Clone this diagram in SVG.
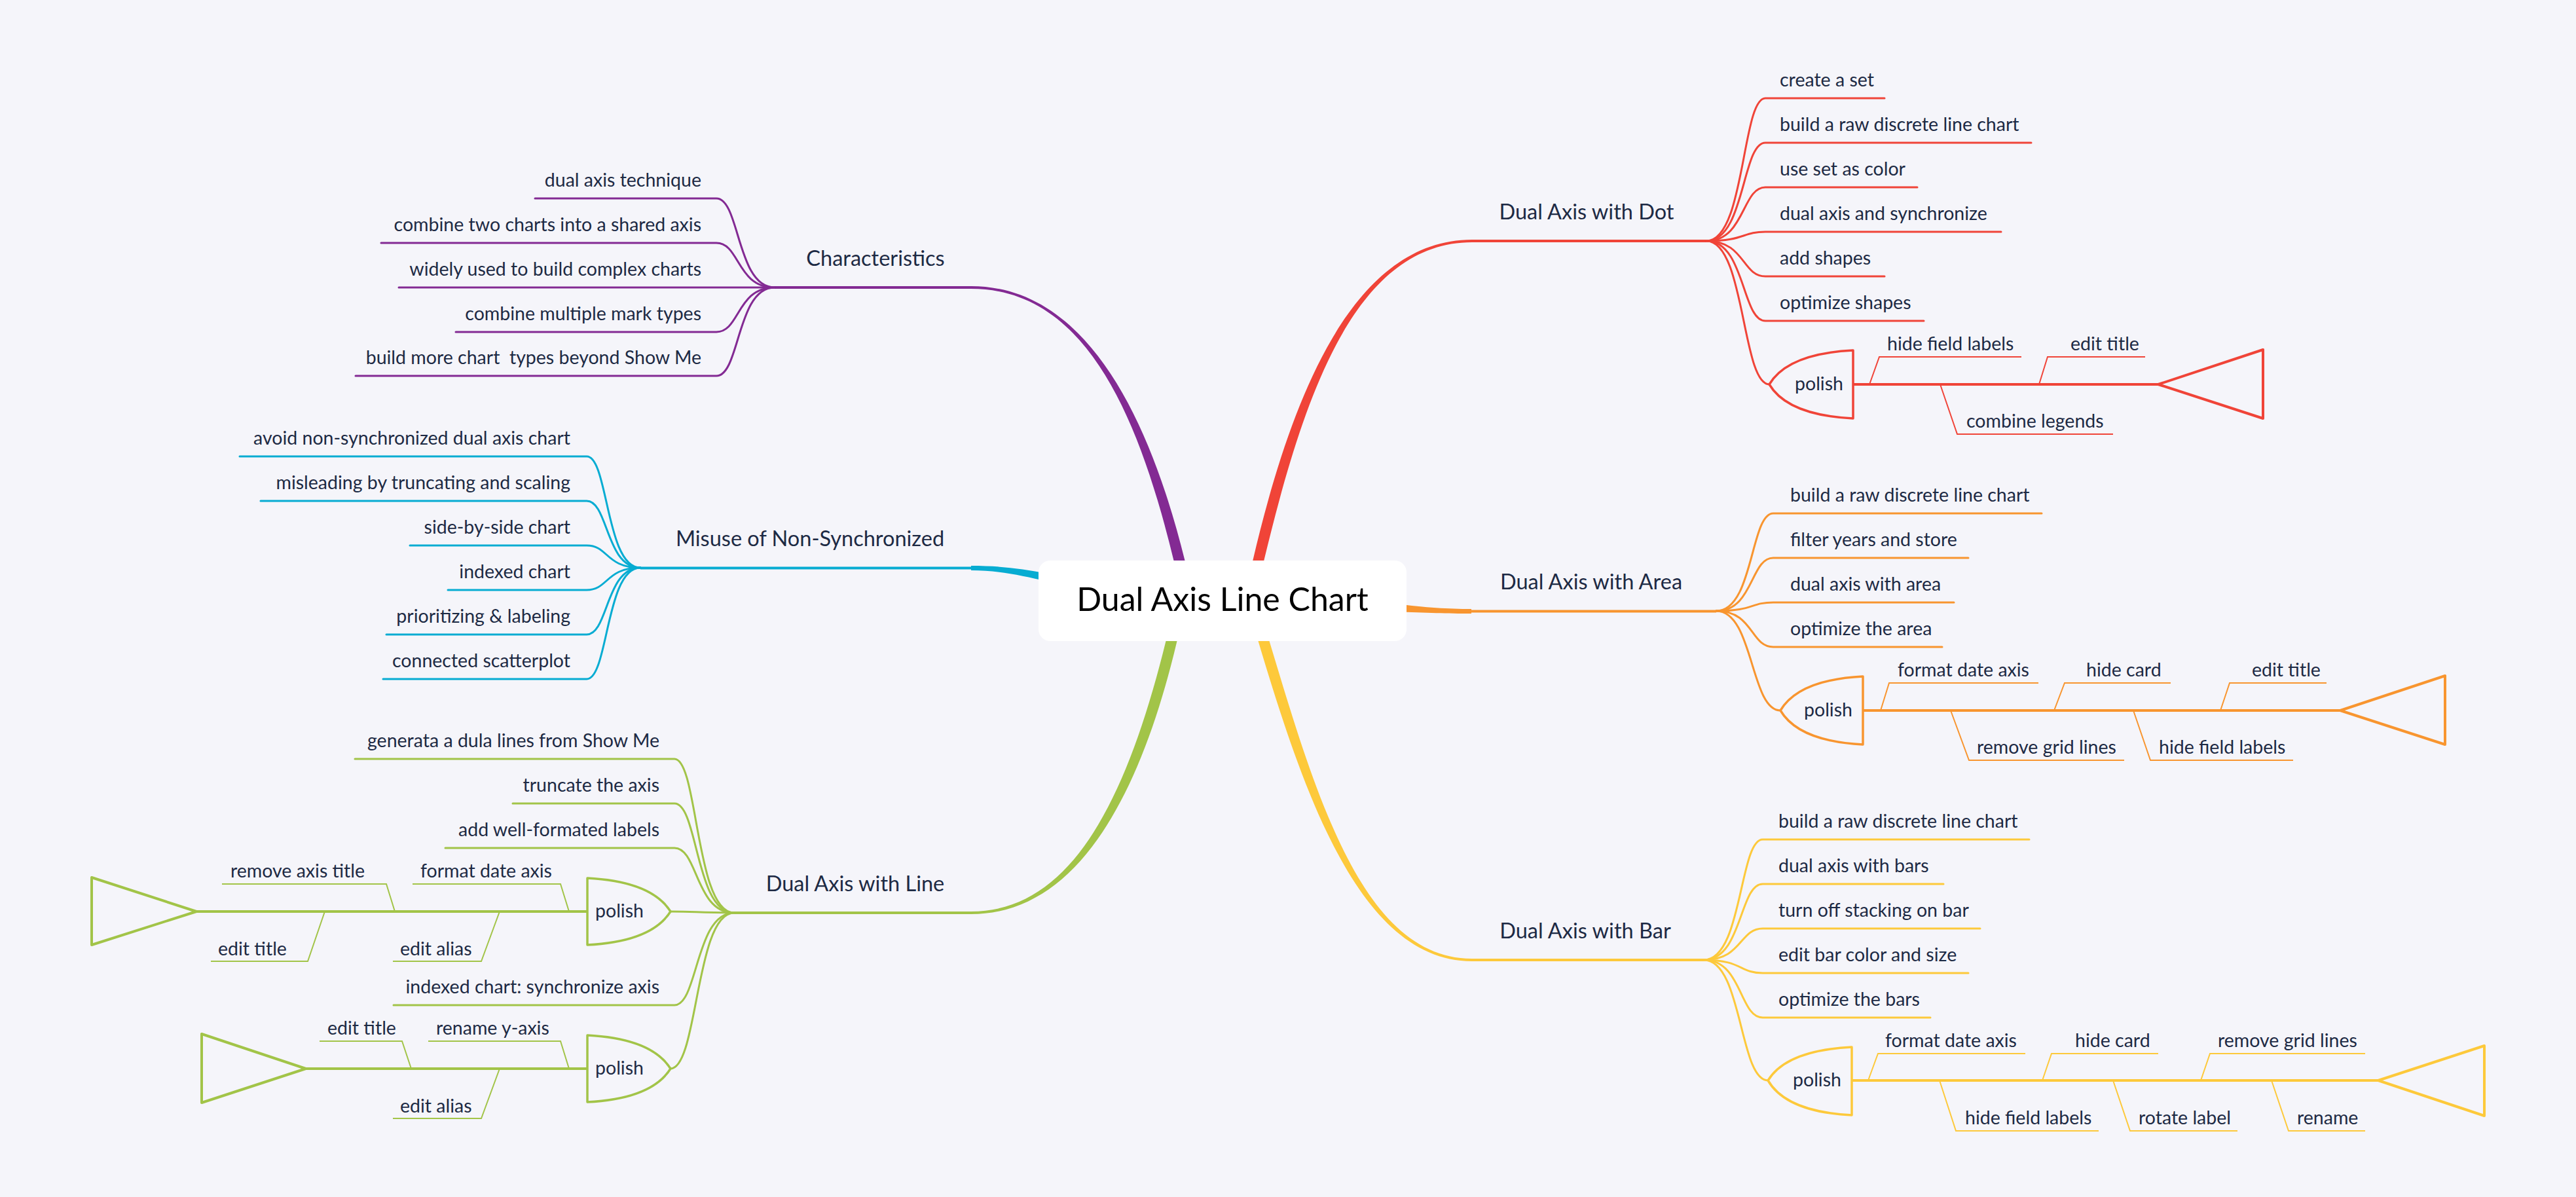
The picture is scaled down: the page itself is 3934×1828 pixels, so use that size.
<svg xmlns="http://www.w3.org/2000/svg" width="3934" height="1828" viewBox="0 0 3934 1828">
<style>
.t{font-family:Lato,"Noto Sans","Liberation Sans",sans-serif;font-size:28.5px;fill:#1d2a44}
.tp{font-family:Lato,"Noto Sans","Liberation Sans",sans-serif;font-size:32.5px;fill:#1d2a44;text-anchor:middle}
.e{text-anchor:end}
.sb{fill:none;stroke-width:3;stroke-linecap:round}
.ul{fill:none;stroke-width:4}
.rib{fill:none;stroke-width:2}
.pol{fill:none;stroke-width:3.5;stroke-linejoin:round}
.spine{fill:none;stroke-width:4}
.pu{stroke:#832a93}.cy{stroke:#07acd2}.gr{stroke:#a2c448}.rd{stroke:#f04438}.or{stroke:#f8952f}.ye{stroke:#fdc93b}
</style>
<rect x="0" y="0" width="3934" height="1828" fill="#f5f5fa"/>
<g id="connectors">
  <!-- main tapered branches -->
  <path fill="#832a93" d="M1483,437 C1660,437 1756,640 1809.5,856 L1813,872 L1796,872 L1792.5,856 C1740,640 1660,441 1483,441 Z"/>
  <path fill="#f04438" d="M2248,366 C2060,366 1968,623 1913.5,855 L1910,872 L1927,872 L1930.5,855 C1986,627 2062,370 2248,370 Z"/>
  <path fill="#fdc93b" d="M1921.5,979 C1994,1222 2080,1468 2248,1468 L2248,1464 C2082,1464 2010,1216 1938.5,979 L1935,962 L1918,962 Z"/>
  <path fill="#a2c448" d="M1780.5,979 C1722,1216 1638,1392 1483,1392 L1483,1396 C1642,1396 1740,1222 1797.5,979 L1801,962 L1784,962 Z"/>
  <path fill="#07acd2" d="M1483,864 C1525,864 1560,868 1600,876 L1600,888 C1560,879 1525,871 1483,871 Z"/>
  <path fill="#f8952f" d="M2130,922 C2180,928 2210,930 2247,930 L2247,937 C2210,937 2180,936 2130,934 Z"/>
  <!-- topic underlines -->
  <path class="ul pu" d="M1183,439 H1484"/>
  <path class="ul cy" d="M978,867.5 H1484"/>
  <path class="ul gr" d="M1121,1394 H1484"/>
  <path class="ul rd" d="M2247,368 H2606"/>
  <path class="ul or" d="M2246,933.5 H2621"/>
  <path class="ul ye" d="M2247,1466 H2602"/>
  <!-- Characteristics -->
  <path class="sb pu" d="M1183,439 C1125,439 1130,303 1094,303 H817"/>
  <path class="sb pu" d="M1183,439 C1125,439 1130,371 1094,371 H582"/>
  <path class="sb pu" d="M1183,439 H609"/>
  <path class="sb pu" d="M1183,439 C1125,439 1130,507 1094,507 H696"/>
  <path class="sb pu" d="M1183,439 C1125,439 1130,574 1094,574 H543"/>
  <!-- Misuse -->
  <path class="sb cy" d="M978,867 C925,867 929,697 896,697 H366"/>
  <path class="sb cy" d="M978,867 C925,867 929,765 896,765 H398"/>
  <path class="sb cy" d="M978,867 C925,867 929,833 896,833 H626"/>
  <path class="sb cy" d="M978,867 C925,867 929,901 896,901 H684"/>
  <path class="sb cy" d="M978,867 C925,867 929,969 896,969 H590"/>
  <path class="sb cy" d="M978,867 C925,867 929,1037 896,1037 H585"/>
  <!-- Line -->
  <path class="sb gr" d="M1121,1394 C1062,1394 1066,1159 1030,1159 H542"/>
  <path class="sb gr" d="M1121,1394 C1062,1394 1066,1227 1030,1227 H783"/>
  <path class="sb gr" d="M1121,1394 C1062,1394 1066,1295 1030,1295 H680"/>
  <path class="sb gr" d="M1121,1394 C1062,1394 1066,1392 1024,1392"/>
  <path class="sb gr" d="M1121,1394 C1062,1394 1066,1535 1030,1535 H601"/>
  <path class="sb gr" d="M1121,1394 C1062,1394 1066,1632 1024,1632"/>
  <!-- Dot -->
  <path class="sb rd" d="M2606,368 C2665,368 2660,150 2696,150 H2878"/>
  <path class="sb rd" d="M2606,368 C2665,368 2660,218 2696,218 H3102"/>
  <path class="sb rd" d="M2606,368 C2665,368 2660,286 2696,286 H2928"/>
  <path class="sb rd" d="M2606,368 C2665,368 2660,354 2696,354 H3056"/>
  <path class="sb rd" d="M2606,368 C2665,368 2660,422 2696,422 H2878"/>
  <path class="sb rd" d="M2606,368 C2665,368 2660,490 2696,490 H2938"/>
  <path class="sb rd" d="M2606,368 C2665,368 2660,587 2702,587"/>
  <!-- Area -->
  <path class="sb or" d="M2621,933 C2678,933 2673,784 2708,784 H3118"/>
  <path class="sb or" d="M2621,933 C2678,933 2673,852 2708,852 H3006"/>
  <path class="sb or" d="M2621,933 C2678,933 2673,920 2708,920 H2984"/>
  <path class="sb or" d="M2621,933 C2678,933 2673,988 2708,988 H2966"/>
  <path class="sb or" d="M2621,933 C2678,933 2673,1085 2719,1085"/>
  <!-- Bar -->
  <path class="sb ye" d="M2602,1466 C2661,1466 2656,1282 2692,1282 H3099"/>
  <path class="sb ye" d="M2602,1466 C2661,1466 2656,1350 2692,1350 H2968"/>
  <path class="sb ye" d="M2602,1466 C2661,1466 2656,1418 2692,1418 H3024"/>
  <path class="sb ye" d="M2602,1466 C2661,1466 2656,1486 2692,1486 H3006"/>
  <path class="sb ye" d="M2602,1466 C2661,1466 2656,1554 2692,1554 H2948"/>
  <path class="sb ye" d="M2602,1466 C2661,1466 2656,1650 2700,1650"/>
</g>
<g id="center">
  <rect x="1586" y="856" width="562" height="123" rx="18" fill="#ffffff"/>
  <text x="1867" y="933" text-anchor="middle" font-family="Lato,'Noto Sans','Liberation Sans',sans-serif" font-size="50" fill="#000">Dual Axis Line Chart</text>
</g>
<g id="characteristics">
  <text class="tp" x="1337" y="406">Characteristics</text>
  <text class="t e" x="1071" y="285">dual axis technique</text>
  <text class="t e" x="1071" y="353">combine two charts into a shared axis</text>
  <text class="t e" x="1071" y="421">widely used to build complex charts</text>
  <text class="t e" x="1071" y="489">combine multiple mark types</text>
  <text class="t e" x="1071" y="556" xml:space="preserve" style="white-space:pre">build more chart  types beyond Show Me</text>
</g>
<g id="misuse">
  <text class="tp" x="1237" y="834">Misuse of Non-Synchronized</text>
  <text class="t e" x="871" y="679">avoid non-synchronized dual axis chart</text>
  <text class="t e" x="871" y="747">misleading by truncating and scaling</text>
  <text class="t e" x="871" y="815">side-by-side chart</text>
  <text class="t e" x="871" y="883">indexed chart</text>
  <text class="t e" x="871" y="951">prioritizing &amp; labeling</text>
  <text class="t e" x="871" y="1019">connected scatterplot</text>
</g>
<g id="line">
  <text class="tp" x="1306" y="1361">Dual Axis with Line</text>
  <text class="t e" x="1007" y="1141">generata a dula lines from Show Me</text>
  <text class="t e" x="1007" y="1209">truncate the axis</text>
  <text class="t e" x="1007" y="1277">add well-formated labels</text>
  <text class="t e" x="1007" y="1517">indexed chart: synchronize axis</text>
  <g id="line-polish-1">
    <path class="pol gr" d="M897,1341 Q995,1346 1024,1392 Q995,1438 897,1443 Z"/>
    <text class="t" x="909" y="1401">polish</text>
    <path class="spine gr" d="M897,1392 H300"/>
    <path class="pol gr" style="stroke-width:4" d="M300,1392 L140,1340 L140,1443 Z"/>
    <path class="rib gr" d="M869,1392 L856,1350 H630"/>
    <text class="t" x="642" y="1340">format date axis</text>
    <path class="rib gr" d="M603,1392 L590,1350 H339"/>
    <text class="t" x="352" y="1340">remove axis title</text>
    <path class="rib gr" d="M496,1392 L470,1468 H322"/>
    <text class="t" x="333" y="1459">edit title</text>
    <path class="rib gr" d="M763,1392 L735,1468 H600"/>
    <text class="t" x="611" y="1459">edit alias</text>
  </g>
  <g id="line-polish-2">
    <path class="pol gr" d="M897,1581 Q995,1586 1024,1632 Q995,1678 897,1683 Z"/>
    <text class="t" x="909" y="1641">polish</text>
    <path class="spine gr" d="M897,1632 H467"/>
    <path class="pol gr" style="stroke-width:4" d="M467,1632 L308,1579 L308,1684 Z"/>
    <path class="rib gr" d="M628,1632 L614,1590 H488"/>
    <text class="t" x="500" y="1580">edit title</text>
    <path class="rib gr" d="M869,1632 L856,1590 H654"/>
    <text class="t" x="666" y="1580">rename y-axis</text>
    <path class="rib gr" d="M763,1632 L735,1708 H600"/>
    <text class="t" x="611" y="1699">edit alias</text>
  </g>
</g>
<g id="dot">
  <text class="tp" x="2423" y="335">Dual Axis with Dot</text>
  <text class="t" x="2718" y="132">create a set</text>
  <text class="t" x="2718" y="200">build a raw discrete line chart</text>
  <text class="t" x="2718" y="268">use set as color</text>
  <text class="t" x="2718" y="336">dual axis and synchronize</text>
  <text class="t" x="2718" y="404">add shapes</text>
  <text class="t" x="2718" y="472">optimize shapes</text>
  <g id="dot-polish">
    <path class="pol rd" d="M2830,535 Q2730,540 2702,587 Q2730,634 2830,639 Z"/>
    <text class="t" x="2741" y="596">polish</text>
    <path class="spine rd" d="M2830,587 H3296"/>
    <path class="pol rd" style="stroke-width:4" d="M3296,587 L3456,534 L3456,639 Z"/>
    <path class="rib rd" d="M2855,587 L2870,545 H3087"/>
    <text class="t" x="2882" y="535">hide field labels</text>
    <path class="rib rd" d="M3114,587 L3127,545 H3276"/>
    <text class="t" x="3162" y="535">edit title</text>
    <path class="rib rd" d="M2963,587 L2989,663 H3227"/>
    <text class="t" x="3003" y="653">combine legends</text>
  </g>
</g>
<g id="area">
  <text class="tp" x="2430" y="900">Dual Axis with Area</text>
  <text class="t" x="2734" y="766">build a raw discrete line chart</text>
  <text class="t" x="2734" y="834">filter years and store</text>
  <text class="t" x="2734" y="902">dual axis with area</text>
  <text class="t" x="2734" y="970">optimize the area</text>
  <g id="area-polish">
    <path class="pol or" d="M2845,1033 Q2747,1038 2719,1085 Q2747,1132 2845,1137 Z"/>
    <text class="t" x="2755" y="1094">polish</text>
    <path class="spine or" d="M2845,1085 H3574"/>
    <path class="pol or" style="stroke-width:4" d="M3574,1085 L3734,1032 L3734,1137 Z"/>
    <path class="rib or" d="M2872,1085 L2885,1043 H3113"/>
    <text class="t" x="2898" y="1033">format date axis</text>
    <path class="rib or" d="M3137,1085 L3153,1043 H3315"/>
    <text class="t" x="3186" y="1033">hide card</text>
    <path class="rib or" d="M3391,1085 L3405,1043 H3553"/>
    <text class="t" x="3439" y="1033">edit title</text>
    <path class="rib or" d="M2979,1085 L3007,1161 H3244"/>
    <text class="t" x="3019" y="1151">remove grid lines</text>
    <path class="rib or" d="M3258,1085 L3284,1161 H3502"/>
    <text class="t" x="3297" y="1151">hide field labels</text>
  </g>
</g>
<g id="bar">
  <text class="tp" x="2421" y="1433">Dual Axis with Bar</text>
  <text class="t" x="2716" y="1264">build a raw discrete line chart</text>
  <text class="t" x="2716" y="1332">dual axis with bars</text>
  <text class="t" x="2716" y="1400">turn off stacking on bar</text>
  <text class="t" x="2716" y="1468">edit bar color and size</text>
  <text class="t" x="2716" y="1536">optimize the bars</text>
  <g id="bar-polish">
    <path class="pol ye" d="M2828,1599 Q2728,1604 2700,1650 Q2728,1698 2828,1703 Z"/>
    <text class="t" x="2738" y="1659">polish</text>
    <path class="spine ye" d="M2828,1650 H3632"/>
    <path class="pol ye" style="stroke-width:4" d="M3632,1650 L3794,1597 L3794,1704 Z"/>
    <path class="rib ye" d="M2853,1650 L2868,1609 H3093"/>
    <text class="t" x="2879" y="1599">format date axis</text>
    <path class="rib ye" d="M3119,1650 L3133,1609 H3296"/>
    <text class="t" x="3169" y="1599">hide card</text>
    <path class="rib ye" d="M3361,1650 L3375,1609 H3612"/>
    <text class="t" x="3387" y="1599">remove grid lines</text>
    <path class="rib ye" d="M2962,1650 L2987,1727 H3205"/>
    <text class="t" x="3001" y="1717">hide field labels</text>
    <path class="rib ye" d="M3227,1650 L3253,1727 H3417"/>
    <text class="t" x="3266" y="1717">rotate label</text>
    <path class="rib ye" d="M3469,1650 L3495,1727 H3612"/>
    <text class="t" x="3508" y="1717">rename</text>
  </g>
</g>
</svg>
